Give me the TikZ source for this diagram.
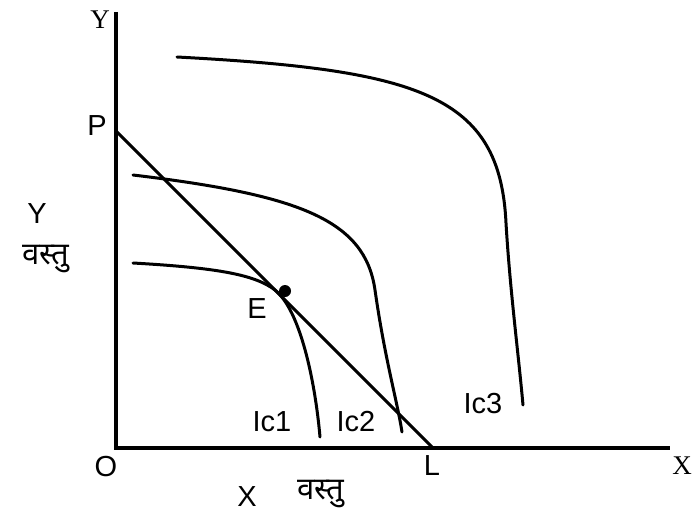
\documentclass[tikz,border=0pt]{standalone}
\usepackage{fontspec}
\setmainfont{Liberation Sans}
\newfontfamily\seriffont{Liberation Serif}
\newfontfamily\devafont[Script=Devanagari]{Noto Sans}
\begin{document}
\begin{tikzpicture}[x=1pt,y=-1pt,
  lbl/.style={inner sep=0pt,font=\fontsize{29}{30}\selectfont},
  slbl/.style={inner sep=0pt,font=\seriffont\fontsize{27}{28}\selectfont},
  dlbl/.style={inner sep=0pt,font=\devafont\fontsize{31}{32}\selectfont},
  axis/.style={line width=3.2pt},
  curve/.style={line width=3pt,line cap=round}]
\useasboundingbox (0,0) rectangle (696,516);
\coordinate (O) at (116,448);
\coordinate (Ytop) at (116,12);
\coordinate (Xend) at (670,448);
\coordinate (P) at (116,131);
\coordinate (L) at (433,448);
\draw[axis] (Ytop) -- (O) -- (Xend);
\draw[curve] (P) -- (L);
% indifference curves
\draw[curve] (133,263) .. controls (220,268) and (255,275) .. (275,290)
             .. controls (300,310) and (315,380) .. (320,437);
\draw[curve] (133,175) .. controls (300,195) and (365,220) .. (375,290)
             .. controls (385,360) and (397,400) .. (402,432);
\draw[curve] (177,57) .. controls (420,70) and (500,95) .. (506,223)
             .. controls (510,290) and (518,350) .. (523,405);
\fill (285,291) circle (6pt);
% labels
\node[slbl] (ylab) at (100,20) {Y};
\node[slbl] (xlab) at (682,466) {X};
\node[lbl] (plab) at (97,126) {P};
\node[lbl] (olab) at (106,467) {O};
\node[lbl] (llab) at (432,466) {L};
\node[lbl] (elab) at (257,309) {E};
\node[lbl] (ylab2) at (37,214) {Y};
\node[dlbl] (yv) at (46,259) {वस्तु};
\node[lbl] (xlab2) at (247,497) {X};
\node[dlbl] (xv) at (321,494) {वस्तु};
\node[lbl] (ic1) at (272,422) {Ic1};
\node[lbl] (ic2) at (356,422) {Ic2};
\node[lbl] (ic3) at (483,404) {Ic3};
\end{tikzpicture}
\end{document}
